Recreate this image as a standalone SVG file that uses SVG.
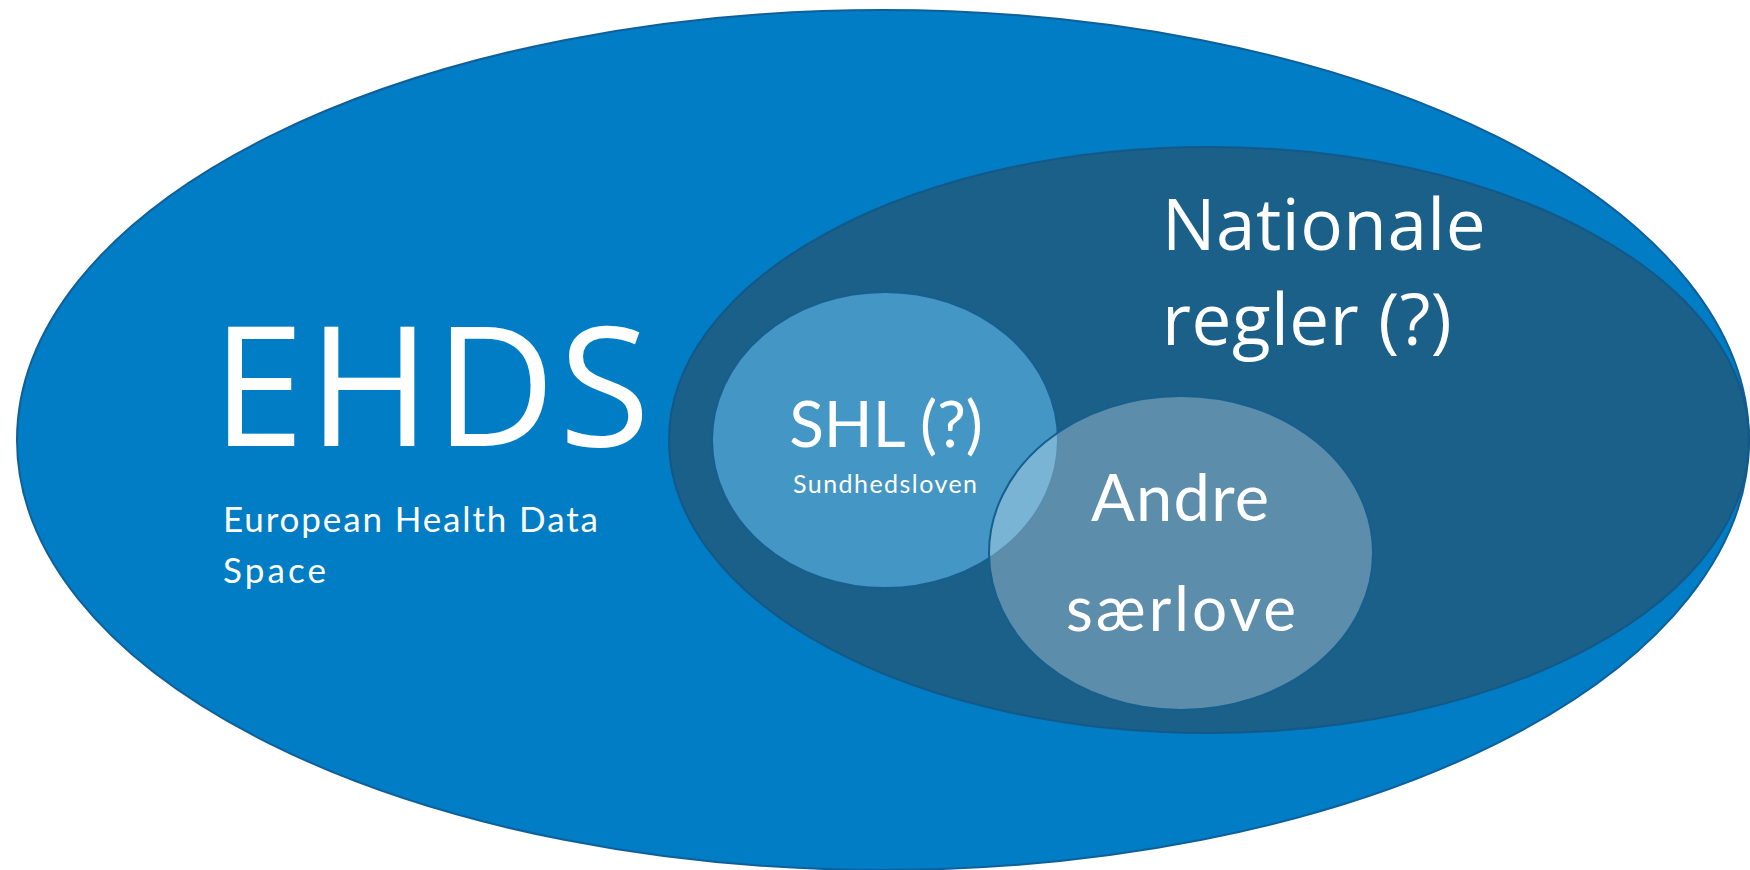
<svg xmlns="http://www.w3.org/2000/svg" width="1750" height="870" viewBox="0 0 1750 870">
<style>
.t{fill:#ffffff}
.os{font-family:"Open Sans","Noto Sans",sans-serif}
.lt{font-family:Lato,"Liberation Sans",sans-serif}
.edge{stroke-width:2}
</style>
<rect width="1750" height="870" fill="#ffffff"/>
<g id="ehds">
<ellipse cx="883" cy="440" rx="866" ry="430" fill="#007DC5" stroke="#0F609A" class="edge"/>
<text class="t os" x="212" y="446" font-size="166" letter-spacing="4">EHDS</text>
<text class="t lt" x="223" y="532" font-size="35" textLength="375" lengthAdjust="spacing">European Health Data</text>
<text class="t lt" x="223" y="583" font-size="35" textLength="103" lengthAdjust="spacing">Space</text>
</g>
<g id="nationale">
<ellipse cx="1209" cy="440" rx="540" ry="293" fill="#1A6089" stroke="#12598A" class="edge"/>
<text class="t os" x="1162" y="250" font-size="71" letter-spacing="0.5">Nationale</text>
<text class="t os" x="1162" y="345" font-size="71" letter-spacing="0.5">regler (?)</text>
</g>
<g id="shl">
<ellipse cx="885" cy="440" rx="173" ry="148" fill="#4496C4" stroke="#165F8E" class="edge"/>
<text class="t lt" x="886" y="447" font-size="64" text-anchor="middle">SHL (?)</text>
<text class="t lt" x="885" y="493" font-size="25" text-anchor="middle" textLength="184" lengthAdjust="spacing">Sundhedsloven</text>
</g>
<g id="andre">
<ellipse cx="1181" cy="553" rx="192" ry="157" fill="#ffffff" fill-opacity="0.29" stroke="#165F8E" class="edge"/>
<text class="t lt" x="1180" y="521" font-size="65" text-anchor="middle" textLength="178" lengthAdjust="spacing">Andre</text>
<text class="t lt" x="1181" y="631" font-size="62" text-anchor="middle" textLength="230" lengthAdjust="spacing">særlove</text>
</g>
<g id="connectors"/>
</svg>
